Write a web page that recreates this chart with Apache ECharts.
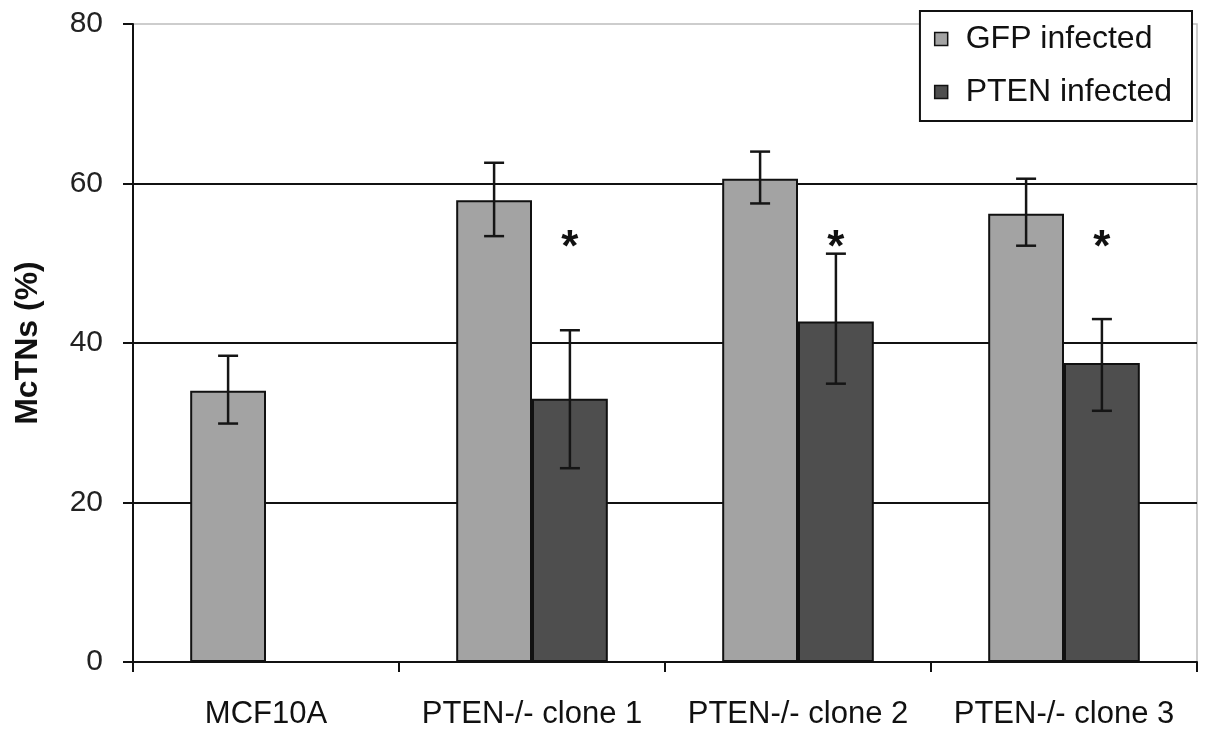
<!DOCTYPE html>
<html>
<head>
<meta charset="utf-8">
<script src="https://cdn.jsdelivr.net/npm/echarts@6/dist/echarts.min.js"></script>
<style>
  html, body { margin: 0; padding: 0; background: #fff; }
  #chart { width: 1207px; height: 733px; }
</style>
</head>
<body>
<div id="chart"></div>
<script>
// McTN percentages per cell line, mean with lower/upper error bounds
const categories = ['MCF10A', 'PTEN-/- clone 1', 'PTEN-/- clone 2', 'PTEN-/- clone 3'];
const seriesNames = ['GFP infected', 'PTEN infected'];
const gfpMean = [34.0, 57.9, 60.6, 56.2];
const gfpLow  = [29.9, 53.4, 57.5, 52.2];
const gfpHigh = [38.4, 62.6, 64.0, 60.6];
const ptenMean = [null, 33.0, 42.7, 37.5];
const ptenLow  = [null, 24.3, 34.9, 31.5];
const ptenHigh = [null, 41.6, 51.2, 43.0];
// significance markers (asterisk above PTEN bars), placed at a fixed level
const starCategories = [1, 2, 3];
const starLevel = 53;
const yTicks = [0, 20, 40, 60, 80];

const CAT_GAP = 0.43;               // barCategoryGap fraction
const HALF_SHIFT = (1 - CAT_GAP) / 4; // bar centre offset from category centre (in band widths)
const FONT = 'Arial, "Liberation Sans", sans-serif';

const errData = [];
gfpMean.forEach((m, i) => { if (m != null) errData.push([i, gfpLow[i], gfpHigh[i], -1]); });
ptenMean.forEach((m, i) => { if (m != null) errData.push([i, ptenLow[i], ptenHigh[i], 1]); });

const chart = echarts.init(document.getElementById('chart'), null, { renderer: 'canvas' });

chart.setOption({
  backgroundColor: '#fff',
  animation: false,
  textStyle: { fontFamily: FONT },
  grid: {
    left: 133, right: 10, top: 24, bottom: 71,
    show: true, borderColor: '#bdbdbd', borderWidth: 1.5, backgroundColor: 'transparent'
  },
  legend: {
    orient: 'vertical',
    right: 15, top: 11,
    padding: [12, 20, 13, 14],
    itemGap: 21,
    itemWidth: 13, itemHeight: 13,
    icon: 'rect',
    backgroundColor: '#fff',
    borderColor: '#111', borderWidth: 2,
    itemStyle: { borderColor: '#111', borderWidth: 1.5 },
    textStyle: { fontSize: 32, color: '#111', fontFamily: FONT, padding: [0, 0, 0, 13] },
    data: seriesNames
  },
  xAxis: {
    type: 'category',
    data: categories,
    axisLine: { lineStyle: { color: '#111', width: 2 } },
    axisTick: { show: true, interval: 0, length: 10, lineStyle: { color: '#111', width: 2 } },
    axisLabel: { interval: 0, fontSize: 31, color: '#111', margin: 37 },
    splitLine: { show: false }
  },
  yAxis: {
    type: 'value',
    min: yTicks[0], max: yTicks[yTicks.length - 1], interval: 20,
    name: 'McTNs (%)',
    nameLocation: 'middle',
    nameGap: 89,
    nameRotate: 90,
    nameTextStyle: { fontSize: 32, fontWeight: 'bold', color: '#111' },
    axisLine: { show: true, lineStyle: { color: '#111', width: 2 } },
    axisTick: { show: true, length: 10, lineStyle: { color: '#111', width: 2 } },
    axisLabel: { fontSize: 30, color: '#222', margin: 30 },
    splitLine: { show: true, showMaxLine: false, lineStyle: { color: '#111', width: 2 } }
  },
  series: [
    {
      name: seriesNames[0],
      type: 'bar',
      data: gfpMean,
      barGap: '0%',
      barCategoryGap: (CAT_GAP * 100) + '%',
      itemStyle: { color: '#a3a3a3', borderColor: '#111', borderWidth: 2 },
      z: 3
    },
    {
      name: seriesNames[1],
      type: 'bar',
      data: ptenMean,
      barGap: '0%',
      barCategoryGap: (CAT_GAP * 100) + '%',
      itemStyle: { color: '#4e4e4e', borderColor: '#111', borderWidth: 2 },
      z: 3
    },
    {
      // error bars with caps
      type: 'custom',
      name: 'error',
      z: 5,
      data: errData,
      encode: { x: 0, y: [1, 2] },
      renderItem: function (params, api) {
        const idx = api.value(0);
        const lo = api.coord([idx, api.value(1)]);
        const hi = api.coord([idx, api.value(2)]);
        const bw = api.size([1, 0])[0];
        const x = lo[0] + api.value(3) * HALF_SHIFT * bw;
        const cap = 10;
        const style = { stroke: '#151515', lineWidth: 2.5, fill: null };
        return {
          type: 'group',
          children: [
            { type: 'line', shape: { x1: x, y1: lo[1], x2: x, y2: hi[1] }, style: style },
            { type: 'line', shape: { x1: x - cap, y1: hi[1], x2: x + cap, y2: hi[1] }, style: style },
            { type: 'line', shape: { x1: x - cap, y1: lo[1], x2: x + cap, y2: lo[1] }, style: style }
          ]
        };
      }
    },
    {
      // significance asterisks
      type: 'custom',
      name: 'sig',
      z: 6,
      data: starCategories.map(c => [c, starLevel]),
      encode: { x: 0, y: 1 },
      renderItem: function (params, api) {
        const p = api.coord([api.value(0), api.value(1)]);
        const bw = api.size([1, 0])[0];
        return {
          type: 'text',
          style: {
            text: '*',
            x: p[0] + HALF_SHIFT * bw,
            y: p[1] + 10,
            align: 'center',
            verticalAlign: 'middle',
            font: 'bold 44px ' + FONT,
            fill: '#111'
          }
        };
      }
    }
  ]
});
</script>
</body>
</html>
